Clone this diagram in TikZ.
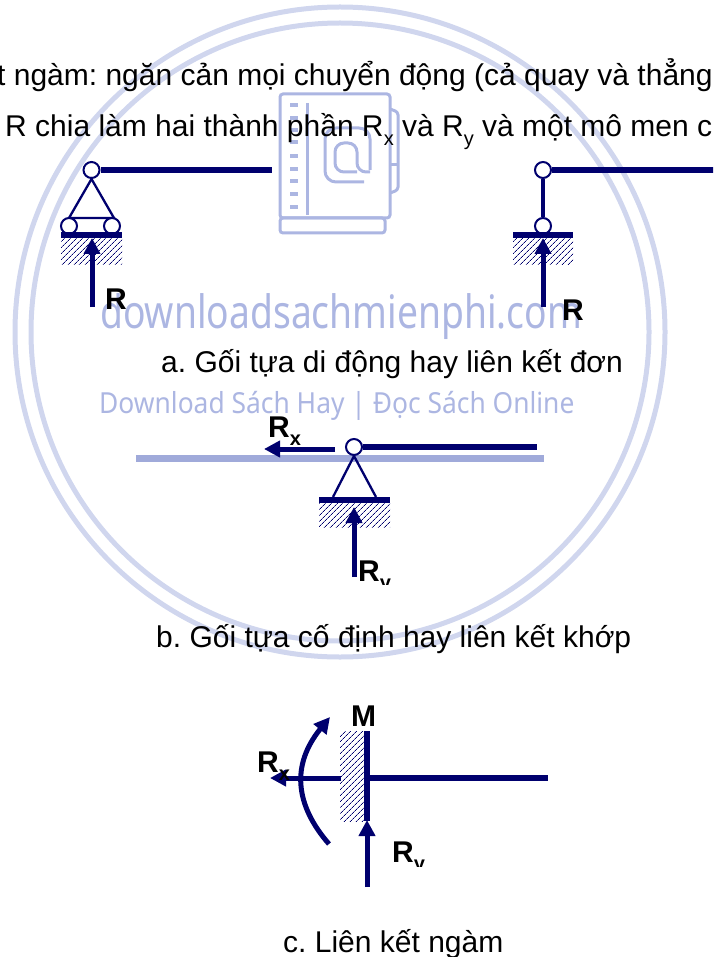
\documentclass[tikz,border=0pt]{standalone}
\usepackage{fontspec}
\setmainfont{Liberation Sans}
\newfontfamily\markfontA[FakeStretch=0.81]{Noto Sans}
\newfontfamily\markfontB[FakeStretch=0.91]{Noto Sans}
\usetikzlibrary{arrows.meta,patterns.meta}
\definecolor{navyline}{RGB}{0,0,110}
\definecolor{markring}{RGB}{208,214,238}
\definecolor{markblue}{RGB}{172,182,226}
\definecolor{markbar}{RGB}{160,170,218}
\newcommand{\bigtext}{\fontsize{30}{30}\selectfont\frenchspacing}
\newcommand{\labeltext}{\fontsize{30}{30}\selectfont\bfseries}
\newcommand{\subtext}[1]{\raisebox{-0.28em}{\fontsize{20}{20}\selectfont #1}}
\begin{document}
\begin{tikzpicture}[x=1pt,y=-1pt,
  textline/.style={anchor=base west, inner sep=0pt, font=\bigtext},
  forcelabel/.style={anchor=base west, inner sep=0pt, font=\labeltext},
  hinge/.style={circle, draw=navyline, fill=white, line width=2pt, inner sep=0pt, minimum size=16pt},
  beam/.style={draw=navyline, line width=6pt},
  link/.style={draw=navyline, line width=2.3pt},
  plate/.style={draw=navyline, line width=5.5pt},
  force/.style={draw=navyline, line width=5pt, -{Triangle[length=16pt,width=16pt]}},
  hatchbox/.style={pattern={Lines[angle=45,distance=4pt,line width=0.8pt]}, pattern color=navyline},
  ring/.style={draw=markring, line width=5pt},
  icon/.style={draw=markblue, line width=3pt, rounded corners=3pt}
]
  \useasboundingbox (0,0) rectangle (713,957);
  \clip (0,0) rectangle (713,957);

  % Watermark (behind everything)
  \draw[ring] (340,332) circle (325);
  \draw[ring] (340,332) circle (309);
  \draw[icon] (280,94) rectangle (390,218);
  \draw[icon] (280,218) rectangle (385,233);
  \draw[icon] (307,103) -- (307,215);
  \draw[icon] (390,109) -- (398,112) -- (398,190) -- (390,193);
  \draw[icon] (390,165) -- (398,165);
  \foreach \ypos in {105,118,130,142,156,169,181,194,207}
    \draw[draw=markblue, line width=3.5pt] (290,\ypos) -- (298,\ypos);
  \draw[icon, rounded corners=11pt] (370,170) -- (370,128) -- (325,128) -- (325,182) -- (364,182);
  \draw[icon, rounded corners=9pt] (357,172) -- (335,172) -- (335,143) -- (357,143) -- (357,172) -- (370,172);
  \node[anchor=base west, inner sep=0pt, text=markblue, font=\markfontA\fontsize{46}{46}\selectfont] (markA) at (100,328) {downloadsachmienphi.com};
  \node[anchor=base west, inner sep=0pt, text=markblue, font=\markfontB\fontsize{29}{29}\selectfont] (markB) at (99,413) {Download Sách Hay | Đọc Sách Online};
  \coordinate (barL) at (136,458);
  \coordinate (barR) at (544,458);
  \draw[draw=markbar, line width=7pt] (barL) -- (barR);

  % Text lines (top)
  \node[textline] (lineA) at (-3,86) {t ngàm: ngăn cản mọi chuyển động (cả quay và thẳng};
  \node[textline] (lineB) at (5,137) {R chia làm hai thành phần R\subtext{x} và R\subtext{y} và một mô men c};

  % a. left support
  \fill[hatchbox] (61,238) rectangle (122,265);
  \node[hinge] (hingeA) at (91.5,170) {};
  \coordinate (beamA) at (272,170);
  \draw[beam] (hingeA) -- (beamA);
  \coordinate (triAL) at (69,218);
  \coordinate (triAR) at (114,218);
  \draw[link] (triAL) -- (hingeA.south) -- (triAR) -- cycle;
  \node[hinge] (rollerL) at (69,226) {};
  \node[hinge] (rollerR) at (112,226) {};
  \coordinate (plateAL) at (61,235);
  \coordinate (plateAR) at (122,235);
  \draw[plate] (plateAL) -- (plateAR);
  \coordinate (tailA) at (92,307);
  \coordinate (tipA) at (92,238);
  \draw[force] (tailA) -- (tipA);
  \node[forcelabel] (labelA) at (105,309) {R};

  % a. right support
  \fill[hatchbox] (513,238) rectangle (573,265);
  \node[hinge] (hingeB) at (543,170) {};
  \node[hinge] (hingeC) at (543,226) {};
  \coordinate (beamB) at (720,170);
  \draw[beam] (hingeB) -- (beamB);
  \draw[draw=navyline, line width=4pt] (hingeB) -- (hingeC);
  \coordinate (plateBL) at (513,235);
  \coordinate (plateBR) at (573,235);
  \draw[plate] (plateBL) -- (plateBR);
  \coordinate (tailB) at (543,307);
  \coordinate (tipB) at (543,238);
  \draw[force] (tailB) -- (tipB);
  \node[forcelabel] (labelB) at (562,320) {R};

  \node[textline] (captionA) at (161,372) {a. Gối tựa di động hay liên kết đơn};

  % b. pinned support
  \fill[hatchbox] (319,503) rectangle (390,527);
  \node[hinge] (hingeD) at (354,447) {};
  \coordinate (beamD) at (537,447);
  \draw[beam] (hingeD) -- (beamD);
  \coordinate (triDL) at (333,497);
  \coordinate (triDR) at (376,497);
  \draw[link] (triDL) -- (hingeD.south) -- (triDR);
  \coordinate (plateDL) at (319,500);
  \coordinate (plateDR) at (390,500);
  \draw[plate] (plateDL) -- (plateDR);
  \coordinate (tailDy) at (354,577);
  \coordinate (tipDy) at (354,507);
  \draw[force] (tailDy) -- (tipDy);
  \coordinate (tailDx) at (335,449);
  \coordinate (tipDx) at (264,449);
  \draw[force] (tailDx) -- (tipDx);
  \node[forcelabel] (labelDx) at (268,437) {R\subtext{x}};
  \begin{scope}
    \clip (340,550) rectangle (420,584);
    \node[forcelabel] (labelDy) at (358,581) {R\subtext{y}};
  \end{scope}

  \node[textline] (captionB) at (156,647) {b. Gối tựa cố định hay liên kết khớp};

  % c. fixed support
  \fill[hatchbox] (340,731) rectangle (364,821);
  \coordinate (wallT) at (367,731);
  \coordinate (wallB) at (367,821);
  \draw[plate] (wallT) -- (wallB);
  \coordinate (beamE) at (548,778);
  \coordinate (rootE) at (367,778);
  \draw[beam] (rootE) -- (beamE);
  \coordinate (tailEx) at (341,778);
  \coordinate (tipEx) at (270,778);
  \draw[force] (tailEx) -- (tipEx);
  \coordinate (tailEy) at (367,887);
  \coordinate (tipEy) at (367,820);
  \draw[force] (tailEy) -- (tipEy);
  \coordinate (momentA) at (329,844);
  \coordinate (momentB) at (330,717);
  \draw[force] (momentA) .. controls (295,805) and (291,765) .. (momentB);
  \node[forcelabel] (labelM) at (351,726) {M};
  \node[forcelabel] (labelEx) at (257,772) {R\subtext{x}};
  \begin{scope}
    \clip (380,830) rectangle (440,866);
    \node[forcelabel] (labelEy) at (392,862) {R\subtext{y}};
  \end{scope}

  \node[textline] (captionC) at (283,952) {c. Liên kết ngàm};
\end{tikzpicture}
\end{document}
